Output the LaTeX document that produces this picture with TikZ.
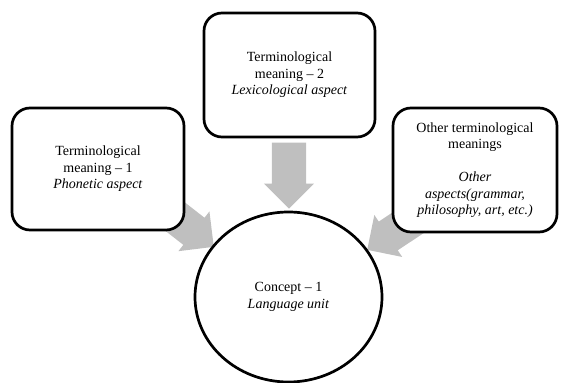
\documentclass[tikz,border=0pt]{standalone}
\usepackage{fontspec}
\setmainfont{Liberation Serif}
\usetikzlibrary{shapes.arrows,shapes.geometric}
\definecolor{arrowgray}{RGB}{191,191,191}
\begin{document}
\begin{tikzpicture}[x=1pt,y=1pt,
  every node/.style={font=\fontsize{14}{16.5}\selectfont},
  meaningbox/.style={draw=black, line width=2.7pt, rounded corners=18pt, fill=white,
    align=center, inner sep=0pt},
  conceptnode/.style={draw=black, line width=2.7pt, ellipse, fill=white, align=center,
    minimum width=187pt, minimum height=170pt, inner sep=0pt},
  flowarrow/.style={single arrow, fill=arrowgray, draw=none, anchor=tip,
    minimum height=66pt, minimum width=0pt, inner xsep=0pt, inner ysep=17pt,
    text width=0pt, text height=0pt, text depth=0pt,
    single arrow head extend=8pt, single arrow head indent=0pt}
]
\useasboundingbox (0,0) rectangle (563,383);

% block arrows leading into the concept
\node[flowarrow, rotate=-90] (toparrow) at (289,174) {};
\node[flowarrow, rotate=-38] (leftarrow) at (214,136) {};
\node[flowarrow, rotate=213.5] (rightarrow) at (367,133) {};

% meaning boxes
\node[meaningbox, minimum width=172pt, minimum height=122pt] (phon) at (98,214)
  {Terminological\\ meaning -- 1\\ \textit{Phonetic aspect}};
\node[meaningbox, minimum width=171pt, minimum height=124pt] (lex) at (289.5,308)
  {Terminological\\ meaning -- 2\\ \textit{Lexicological aspect}};
\node[meaningbox, minimum width=164pt, minimum height=124pt] (other) at (475,213)
  {Other terminological\\ meanings\\[16.5pt] \textit{Other}\\ \textit{aspects(grammar,}\\ \textit{philosophy, art, etc.)}};

% concept
\node[conceptnode] (concept) at (288.5,86)
  {Concept -- 1\\ \textit{Language unit}};
\end{tikzpicture}
\end{document}
